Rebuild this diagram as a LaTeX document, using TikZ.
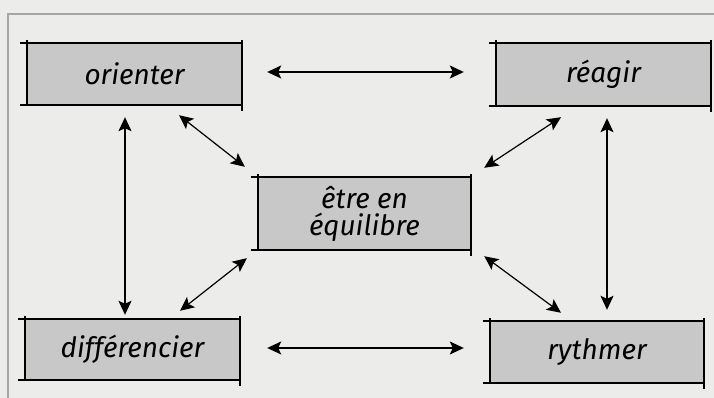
\documentclass[tikz,border=0pt]{standalone}
\usepackage{fontspec}
\setmainfont{Fira Sans}
\usetikzlibrary{arrows.meta,calc}
\definecolor{paper}{RGB}{236,236,234}
\definecolor{boxfill}{RGB}{200,200,200}
\definecolor{framegrey}{RGB}{165,165,165}
\tikzset{
  box/.style={fill=boxfill, inner sep=0pt, font=\itshape\fontsize{28}{27}\selectfont, align=center},
  edge/.style={line width=1.6pt, black},
  conn/.style={line width=1.2pt, black, {Stealth[length=14pt,width=13pt,inset=3pt]}-{Stealth[length=14pt,width=13pt,inset=3pt]}}
}
\newcommand{\boxlines}[1]{%
  \draw[edge] ($(#1.north west)+(-7pt,0)$) -- (#1.north east);
  \draw[edge] ($(#1.south west)+(-7pt,0)$) -- (#1.south east);
  \draw[edge] ($(#1.north west)+(0,3pt)$) -- (#1.south west);
  \draw[edge] ($(#1.north east)+(0,3pt)$) -- ($(#1.south east)+(0,-6pt)$);
}
\begin{document}
\begin{tikzpicture}[x=1pt,y=1pt]
\useasboundingbox (0,0) rectangle (714,398);
\fill[paper] (0,0) rectangle (714,398);
\draw[framegrey, line width=2pt] (8,0) -- (8,384) -- (714,384);

\node[box, minimum width=215pt, minimum height=62pt] (o) at (134.5,324) {orienter};
\node[box, minimum width=215pt, minimum height=63pt] (r) at (603.5,323.5) {réagir};
\node[box, minimum width=213pt, minimum height=73pt] (c) at (364.5,184.5) {être en\\équilibre};
\node[box, minimum width=215pt, minimum height=61pt] (d) at (132.5,48.5) {différencier};
\node[box, minimum width=214pt, minimum height=62pt] (y) at (597,46) {rythmer};

\boxlines{o}
\boxlines{r}
\boxlines{c}
\boxlines{d}
\boxlines{y}

\draw[conn] ([shift={(25,2)}]o.east) -- ([shift={(-32,2.5)}]r.west);
\draw[conn] ([shift={(-9.5,-12)}]o.south) -- ([shift={(-7.5,4)}]d.north);
\draw[conn] ([shift={(44.5,-10)}]o.south) -- ([shift={(-13,10)}]c.north west);
\draw[conn] ([shift={(-42.5,-11)}]r.south) -- ([shift={(13,9)}]c.north east);
\draw[conn] ([shift={(3.5,-12)}]r.south) -- ([shift={(10,11)}]y.north);
\draw[conn] ([shift={(-11,-8)}]c.south west) -- ([shift={(47.5,8)}]d.north);
\draw[conn] ([shift={(13,-6)}]c.south east) -- ([shift={(-36,8)}]y.north);
\draw[conn] ([shift={(27,1.5)}]d.east) -- ([shift={(-26,4)}]y.west);
\end{tikzpicture}
\end{document}
